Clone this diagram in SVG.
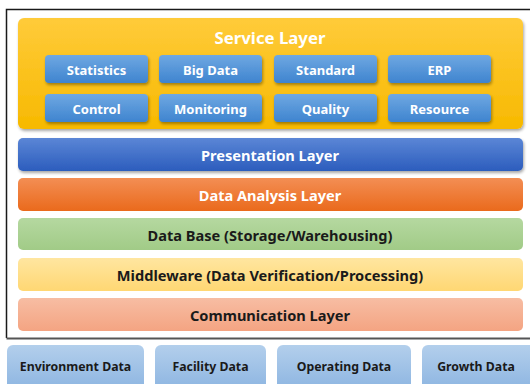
<svg xmlns="http://www.w3.org/2000/svg" width="530" height="384" viewBox="0 0 530 384">
<style>
  text { font-family: "Noto Sans", "Open Sans", "DejaVu Sans", sans-serif; font-weight: bold; text-anchor: middle; dominant-baseline: central; }
  .w { fill: #ffffff; }
  .k { fill: #1a1a1a; }
  .btn { font-size: 13px; }
  .lay { font-size: 14.6px; }
  .src { font-size: 12.3px; }
</style>
<defs>
  <filter id="sh" x="-5%" y="-20%" width="110%" height="150%">
    <feGaussianBlur in="SourceAlpha" stdDeviation="1.5"/>
    <feOffset dx="1" dy="2" result="b"/>
    <feComponentTransfer><feFuncA type="linear" slope="0.35"/></feComponentTransfer>
    <feMerge><feMergeNode/><feMergeNode in="SourceGraphic"/></feMerge>
  </filter>
  <linearGradient id="gGold" x1="0" y1="0" x2="0" y2="1"><stop offset="0" stop-color="#FFCB3A"/><stop offset="1" stop-color="#F7B900"/></linearGradient>
  <linearGradient id="gBtn" x1="0" y1="0" x2="0" y2="1"><stop offset="0" stop-color="#6FA8E2"/><stop offset="1" stop-color="#3E84CF"/></linearGradient>
  <linearGradient id="gPres" x1="0" y1="0" x2="0" y2="1"><stop offset="0" stop-color="#5B86D6"/><stop offset="1" stop-color="#2C5DBD"/></linearGradient>
  <linearGradient id="gAna" x1="0" y1="0" x2="0" y2="1"><stop offset="0" stop-color="#F38E54"/><stop offset="1" stop-color="#EA6A1C"/></linearGradient>
  <linearGradient id="gDb" x1="0" y1="0" x2="0" y2="1"><stop offset="0" stop-color="#B5D8A0"/><stop offset="1" stop-color="#A1CB87"/></linearGradient>
  <linearGradient id="gMid" x1="0" y1="0" x2="0" y2="1"><stop offset="0" stop-color="#FFE6A0"/><stop offset="1" stop-color="#FFD773"/></linearGradient>
  <linearGradient id="gCom" x1="0" y1="0" x2="0" y2="1"><stop offset="0" stop-color="#F7BDA3"/><stop offset="1" stop-color="#F4A482"/></linearGradient>
  <linearGradient id="gSrc" x1="0" y1="0" x2="0" y2="1"><stop offset="0" stop-color="#B3CFEC"/><stop offset="1" stop-color="#8DB5E1"/></linearGradient>
</defs>
<rect width="530" height="384" fill="#ffffff"/>
<g id="frame">
  <path d="M531 9.5 H6.5 V338" fill="none" stroke="#1a1a1a" stroke-width="1.5"/>
  <path d="M6.5 338.5 H531" fill="none" stroke="#555555" stroke-width="2"/>
</g>
<g id="service-layer">
  <rect x="18" y="18" width="505" height="111" rx="6" fill="url(#gGold)" filter="url(#sh)"/>
  <text class="w" x="270" y="37" font-size="16.8">Service Layer</text>
</g>
<g id="statistics"><rect x="45" y="55" width="103" height="28" rx="4" fill="url(#gBtn)" filter="url(#sh)"/><text class="w btn" x="96.5" y="69.5">Statistics</text></g>
<g id="big-data"><rect x="159" y="55" width="103" height="28" rx="4" fill="url(#gBtn)" filter="url(#sh)"/><text class="w btn" x="210.5" y="69.5">Big Data</text></g>
<g id="standard"><rect x="274" y="55" width="103" height="28" rx="4" fill="url(#gBtn)" filter="url(#sh)"/><text class="w btn" x="325.5" y="69.5">Standard</text></g>
<g id="erp"><rect x="388" y="55" width="103" height="28" rx="4" fill="url(#gBtn)" filter="url(#sh)"/><text class="w btn" x="439.5" y="69.5">ERP</text></g>
<g id="control"><rect x="45" y="94" width="103" height="28" rx="4" fill="url(#gBtn)" filter="url(#sh)"/><text class="w btn" x="96.5" y="108.5">Control</text></g>
<g id="monitoring"><rect x="159" y="94" width="103" height="28" rx="4" fill="url(#gBtn)" filter="url(#sh)"/><text class="w btn" x="210.5" y="108.5">Monitoring</text></g>
<g id="quality"><rect x="274" y="94" width="103" height="28" rx="4" fill="url(#gBtn)" filter="url(#sh)"/><text class="w btn" x="325.5" y="108.5">Quality</text></g>
<g id="resource"><rect x="388" y="94" width="103" height="28" rx="4" fill="url(#gBtn)" filter="url(#sh)"/><text class="w btn" x="439.5" y="108.5">Resource</text></g>
<g id="presentation-layer"><rect x="18" y="138" width="505" height="33" rx="5" fill="url(#gPres)" filter="url(#sh)"/><text class="w lay" x="270" y="155">Presentation Layer</text></g>
<g id="data-analysis-layer"><rect x="18" y="178" width="505" height="33" rx="5" fill="url(#gAna)"/><text class="w lay" x="270" y="195">Data Analysis Layer</text></g>
<g id="data-base"><rect x="18" y="218" width="505" height="32" rx="5" fill="url(#gDb)"/><text class="k lay" x="270" y="235">Data Base (Storage/Warehousing)</text></g>
<g id="middleware"><rect x="18" y="258" width="505" height="33" rx="5" fill="url(#gMid)"/><text class="k lay" x="270" y="275">Middleware (Data Verification/Processing)</text></g>
<g id="communication-layer"><rect x="18" y="298" width="505" height="33" rx="5" fill="url(#gCom)"/><text class="k lay" x="270" y="315">Communication Layer</text></g>
<g id="environment-data"><rect x="7" y="345" width="137" height="45" rx="6" fill="url(#gSrc)"/><text class="k src" x="75.5" y="366">Environment Data</text></g>
<g id="facility-data"><rect x="155" y="345" width="111" height="45" rx="6" fill="url(#gSrc)"/><text class="k src" x="210.5" y="366">Facility Data</text></g>
<g id="operating-data"><rect x="277" y="345" width="134" height="45" rx="6" fill="url(#gSrc)"/><text class="k src" x="344" y="366">Operating Data</text></g>
<g id="growth-data"><rect x="422" y="345" width="115" height="45" rx="6" fill="url(#gSrc)"/><text class="k src" x="476" y="366">Growth Data</text></g>
<g id="connectors"></g>
</svg>
